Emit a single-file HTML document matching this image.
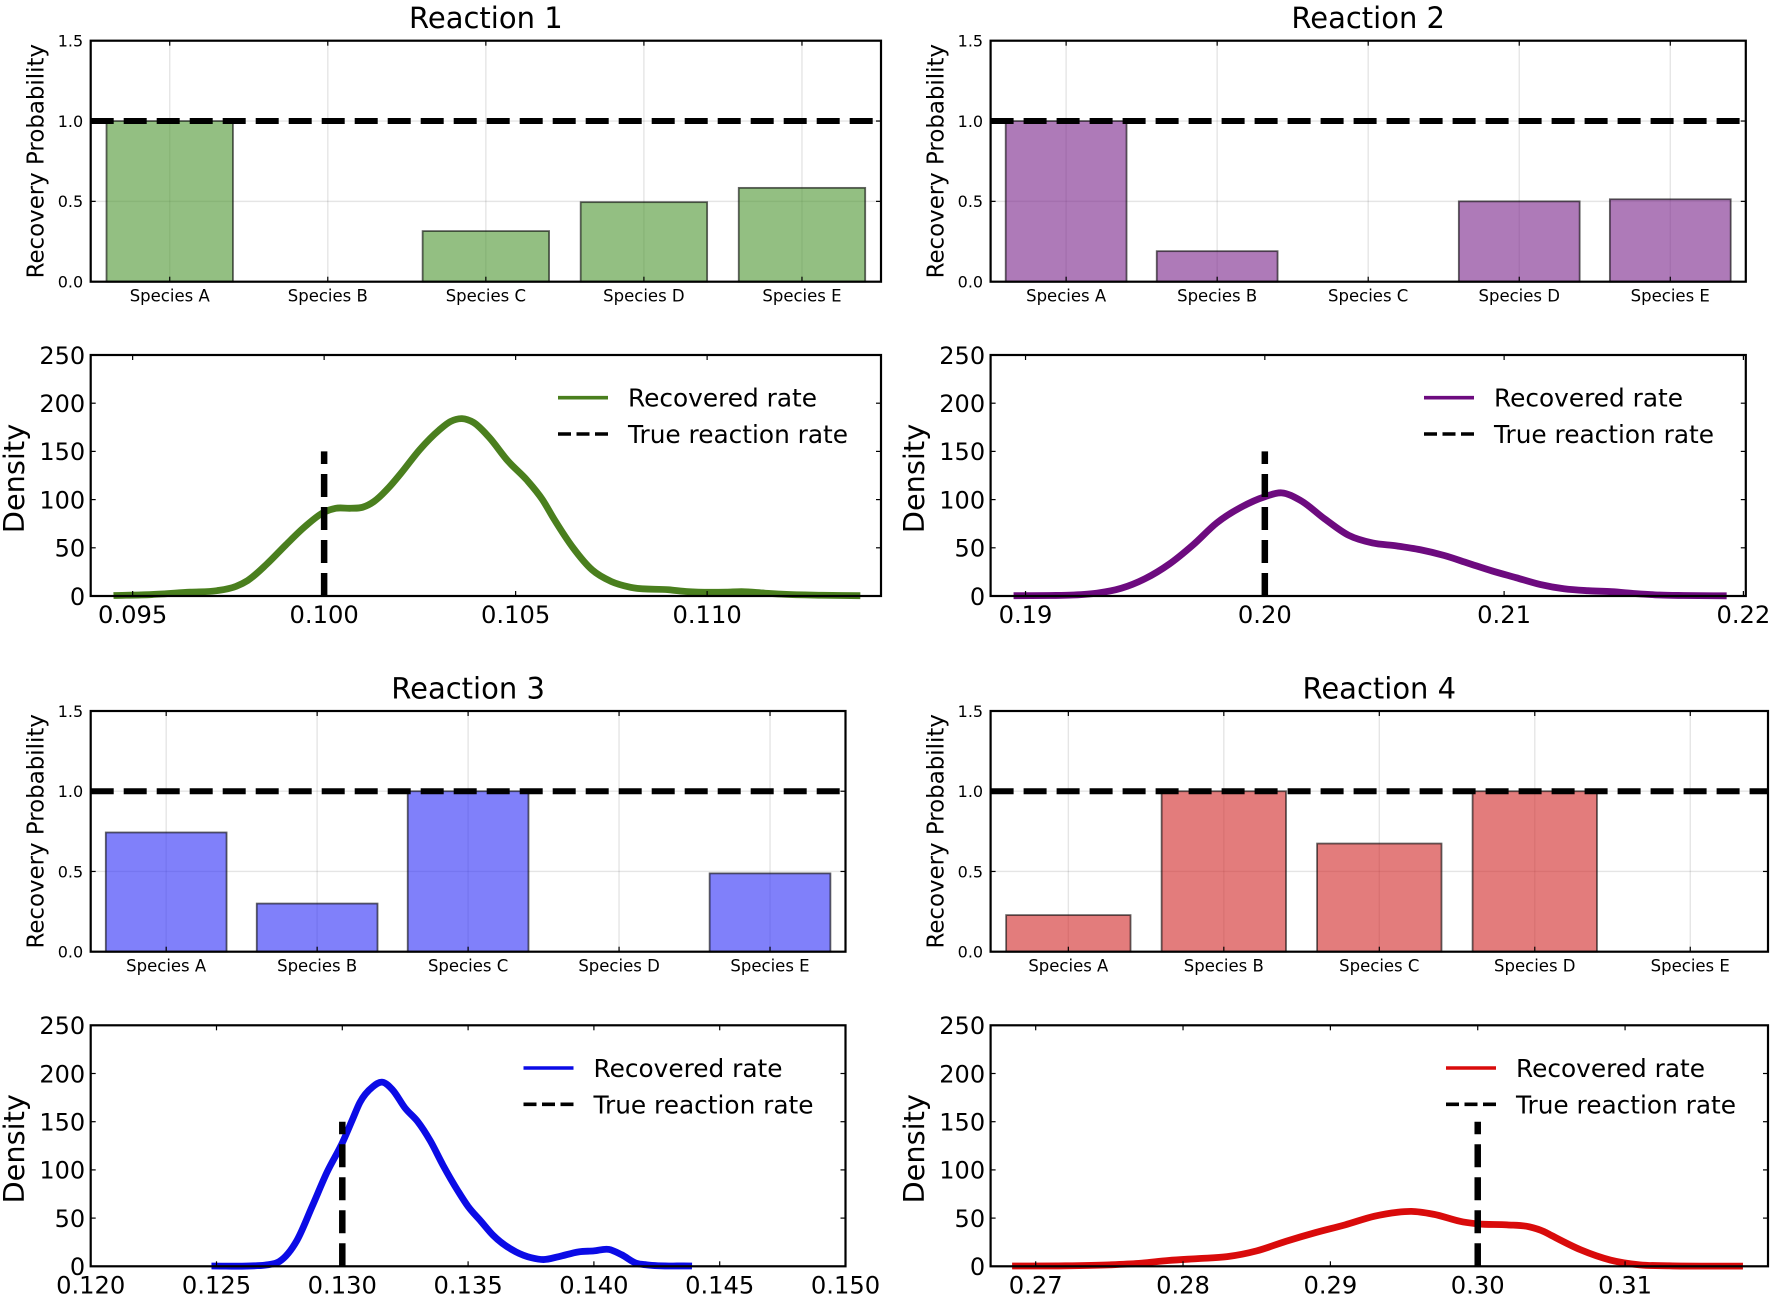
<!DOCTYPE html>
<html lang="en">
<head>
<meta charset="utf-8">
<title>Reaction recovery charts</title>
<style>
html,body{margin:0;padding:0;background:#fff;width:1772px;height:1296px;overflow:hidden}
svg{display:block;filter:blur(0.35px)}
text{font-family:"DejaVu Sans","Liberation Sans",sans-serif;fill:#000}
</style>
</head>
<body>
<svg id="figure" xmlns="http://www.w3.org/2000/svg" width="1772" height="1296" viewBox="0 0 1772 1296"></svg>
<script>
const categories = ['Species A', 'Species B', 'Species C', 'Species D', 'Species E'];
const probabilityTicks = ['0.0', '0.5', '1.0', '1.5'];
const densityTicks = ['0', '50', '100', '150', '200', '250'];

const reaction1Recovery = [1.0, 0, 0.315, 0.495, 0.584];
const reaction2Recovery = [1.0, 0.19, 0, 0.50, 0.513];
const reaction3Recovery = [0.743, 0.30, 1.0, 0, 0.488];
const reaction4Recovery = [0.228, 1.0, 0.674, 1.0, 0];

const reaction1RateTicks = ['0.095', '0.100', '0.105', '0.110'];
const reaction2RateTicks = ['0.19', '0.20', '0.21', '0.22'];
const reaction3RateTicks = ['0.120', '0.125', '0.130', '0.135', '0.140', '0.145', '0.150'];
const reaction4RateTicks = ['0.27', '0.28', '0.29', '0.30', '0.31'];

const reaction1Rates = [0.0945,0.0955,0.0965,0.0972,0.0977,0.098,0.0985,0.099,0.0995,0.1,0.1003,0.1007,0.101,0.1013,0.1017,0.102,0.1025,0.103,0.1033,0.1036,0.1039,0.1043,0.1048,0.1053,0.1057,0.106,0.1065,0.107,0.1075,0.108,0.109,0.1095,0.1105,0.1109,0.1115,0.112,0.113,0.114];
const reaction1Density = [0.5,1.5,4,5.5,10,16,33,53,72,87,91,91,92,98,113,127,152,172,181,184,180,165,140,120,100,80,50,27,15,9,6.5,4.5,4,4.5,3,1.8,0.8,0.3];

const reaction2Rates = [0.1895,0.191,0.192,0.193,0.194,0.195,0.196,0.197,0.198,0.199,0.2,0.2007,0.2015,0.2025,0.2035,0.2045,0.2055,0.2065,0.2075,0.2085,0.2095,0.2105,0.2115,0.2125,0.2135,0.2145,0.2155,0.2165,0.2175,0.2193];
const reaction2Density = [0.3,0.5,1,3,8,18,33,53,76,92,103,107,99,80,63,55,52,48,42,34,26,19,12,7.5,5.5,4.5,2.5,1,0.5,0.2];

const reaction3Rates = [0.1248,0.1265,0.127,0.1275,0.1282,0.1288,0.1294,0.13,0.1304,0.1307,0.1312,0.1316,0.132,0.1325,0.133,0.1335,0.134,0.1346,0.135,0.1355,0.136,0.1369,0.1375,0.138,0.1386,0.1394,0.14,0.1406,0.1411,0.1417,0.1421,0.1439];
const reaction3Density = [0.3,0.5,1.5,5,27,62,98,128,152,170,186,191,183,164,150,130,105,78,62,47,32,15,9,7,10,15,16,17.5,12,3,1.5,0.3];

const reaction4Rates = [0.2684,0.272,0.275,0.277,0.279,0.281,0.283,0.285,0.287,0.289,0.291,0.293,0.2945,0.2955,0.297,0.299,0.3,0.302,0.3035,0.3045,0.305,0.307,0.309,0.311,0.313,0.318];
const reaction4Density = [0.3,0.5,1.5,3,6,8,10,16,26,35,43,52,56,57,54,46,44,43,41,36,32,17,6.5,1.5,0.5,0.2];

const SVG_NS = 'http://www.w3.org/2000/svg';
const figure = document.getElementById('figure');

function el(tag, attrs, parent, text) {
  const node = document.createElementNS(SVG_NS, tag);
  for (const key in attrs) node.setAttribute(key, attrs[key]);
  if (text !== undefined) node.textContent = text;
  parent.appendChild(node);
  return node;
}

function linear(d0, d1, r0, r1) {
  return function (v) { return r0 + (v - d0) * (r1 - r0) / (d1 - d0); };
}

/* Cubic Hermite through the points, with tangents weighted by the x spacing */
function smoothPath(xs, ys) {
  const n = xs.length;
  const slopes = [];
  for (let i = 0; i < n - 1; i++) slopes.push((ys[i + 1] - ys[i]) / (xs[i + 1] - xs[i]));
  const tangents = [slopes[0]];
  for (let i = 1; i < n - 1; i++) {
    const h0 = xs[i] - xs[i - 1], h1 = xs[i + 1] - xs[i];
    tangents.push((slopes[i - 1] * h1 + slopes[i] * h0) / (h0 + h1));
  }
  tangents.push(slopes[n - 2]);
  let d = 'M' + xs[0].toFixed(2) + ' ' + ys[0].toFixed(2);
  for (let i = 0; i < n - 1; i++) {
    const h = (xs[i + 1] - xs[i]) / 3;
    d += 'C' + (xs[i] + h).toFixed(2) + ' ' + (ys[i] + tangents[i] * h).toFixed(2) + ' ' + (xs[i + 1] - h).toFixed(2) + ' ' + (ys[i + 1] - tangents[i + 1] * h).toFixed(2) + ' ' + xs[i + 1].toFixed(2) + ' ' + ys[i + 1].toFixed(2);
  }
  return d;
}

function tickMark(parent, x1, y1, x2, y2) {
  const t = el('line', { x1: x1, y1: y1, x2: x2, y2: y2, stroke: '#000', 'stroke-width': 1.2 }, parent);
  
  
}

function frame(parent, box) {
  const f = el('rect', { x: box.x0, y: box.y0, width: box.x1 - box.x0, height: box.y1 - box.y0, fill: 'none', stroke: '#000', 'stroke-width': 2.2 }, parent);
  
  
}

function drawBars(cfg, box, values) {
  const g = el('g', {}, figure);
  
  
  const x = linear(-0.5, categories.length - 0.5, box.x0, box.x1);
  const y = linear(0, 1.5, box.y1, box.y0);
  const unit = x(1) - x(0);

  const title = el('text', { x: (box.x0 + box.x1) / 2, y: box.y0 - 12.5, 'text-anchor': 'middle', 'font-size': 29 }, g, cfg.title);
  
  

  categories.forEach(function (c, i) {
    const gl = el('line', { x1: x(i), x2: x(i), y1: box.y0, y2: box.y1, stroke: '#000', 'stroke-opacity': 0.1, 'stroke-width': 1.4 }, g);
    
    
  });
  probabilityTicks.forEach(function (t) {
    const v = parseFloat(t);
    const gl = el('line', { x1: box.x0, x2: box.x1, y1: y(v), y2: y(v), stroke: '#000', 'stroke-opacity': 0.1, 'stroke-width': 1.4 }, g);
    
    
  });

  values.forEach(function (v, i) {
    if (v <= 0) return;
    const r = el('rect', { x: x(i) - 0.4 * unit, y: y(v), width: 0.8 * unit, height: y(0) - y(v), fill: cfg.barColor, 'fill-opacity': 0.6, stroke: '#000', 'stroke-opacity': 0.6, 'stroke-width': 1.8 }, g);
    
    
  });

  const ref = el('line', { x1: box.x0, x2: box.x1, y1: y(1), y2: y(1), stroke: '#000', 'stroke-width': 6, 'stroke-dasharray': '23 10' }, g);
  
  

  categories.forEach(function (c, i) {
    tickMark(g, x(i), box.y1, x(i), box.y1 - 5);
    tickMark(g, x(i), box.y0, x(i), box.y0 + 5);
    const lab = el('text', { x: x(i), y: box.y1 + 20, 'text-anchor': 'middle', 'font-size': 16.5 }, g, c);
    
    
  });
  probabilityTicks.forEach(function (t) {
    const v = parseFloat(t);
    tickMark(g, box.x0, y(v), box.x0 + 5, y(v));
    tickMark(g, box.x1, y(v), box.x1 - 5, y(v));
    const lab = el('text', { x: box.x0 - 7.5, y: y(v) + 5.8, 'text-anchor': 'end', 'font-size': 16 }, g, t);
    
    
  });

  const cy = (box.y0 + box.y1) / 2;
  const yl = el('text', { x: 0, y: 0, 'text-anchor': 'middle', 'font-size': 22.9, transform: 'translate(' + (box.x0 - 47) + ' ' + cy + ') rotate(-90)' }, g, 'Recovery Probability');
  
  

  frame(g, box);
}

function drawDensity(cfg, box, rates, density, rateTicks) {
  const g = el('g', {}, figure);
  
  
  const x = linear(cfg.xMin, cfg.xMax, box.x0, box.x1);
  const y = linear(0, 250, box.y1, box.y0);

  const curve = el('path', { d: smoothPath(rates.map(x), density.map(y)), fill: 'none', stroke: cfg.lineColor, 'stroke-width': 6.8, 'stroke-linejoin': 'round' }, g);
  
  

  const vline = el('line', { x1: x(cfg.trueRate), x2: x(cfg.trueRate), y1: y(0), y2: y(150), stroke: '#000', 'stroke-width': 6.5, 'stroke-dasharray': '23 10' }, g);
  
  

  rateTicks.forEach(function (t) {
    const v = parseFloat(t);
    tickMark(g, x(v), box.y1, x(v), box.y1 - 5);
    tickMark(g, x(v), box.y0, x(v), box.y0 + 5);
    const lab = el('text', { x: x(v), y: box.y1 + 27, 'text-anchor': 'middle', 'font-size': 24.2 }, g, t);
    
    
  });
  densityTicks.forEach(function (t) {
    const v = parseFloat(t);
    tickMark(g, box.x0, y(v), box.x0 + 5, y(v));
    tickMark(g, box.x1, y(v), box.x1 - 5, y(v));
    const lab = el('text', { x: box.x0 - 5.5, y: y(v) + 8.8, 'text-anchor': 'end', 'font-size': 24 }, g, t);
    
    
  });

  const cy = (box.y0 + box.y1) / 2;
  const yl = el('text', { x: 0, y: 0, 'text-anchor': 'middle', 'font-size': 28.8, transform: 'translate(' + (box.x0 - 66.5) + ' ' + (cy + 3) + ') rotate(-90)' }, g, 'Density');
  
  

  const legend = el('g', {}, g);
  
  
  const ly1 = box.y0 + 42.7, ly2 = box.y0 + 79;
  const s1 = el('line', { x1: cfg.legendX, x2: cfg.legendX + 50, y1: ly1, y2: ly1, stroke: cfg.lineColor, 'stroke-width': 3.6 }, legend);
  
  
  const t1 = el('text', { x: cfg.legendX + 70, y: ly1 + 9, 'font-size': 24.8 }, legend, 'Recovered rate');
  
  
  const s2 = el('line', { x1: cfg.legendX, x2: cfg.legendX + 50, y1: ly2, y2: ly2, stroke: '#000', 'stroke-width': 3.6, 'stroke-dasharray': '13 5.5' }, legend);
  
  
  const t2 = el('text', { x: cfg.legendX + 70, y: ly2 + 9, 'font-size': 24.8 }, legend, 'True reaction rate');
  
  

  frame(g, box);
}

drawBars({ id: 1, title: 'Reaction 1', barColor: 'rgb(75,149,47)' }, { x0: 90.7, x1: 881, y0: 40.7, y1: 281.7 }, reaction1Recovery);
drawDensity({ id: 1, lineColor: '#4a7f1e', trueRate: 0.1, xMin: 0.093905, xMax: 0.11454, legendX: 558 }, { x0: 90.7, x1: 881, y0: 355, y1: 596 }, reaction1Rates, reaction1Density, reaction1RateTicks);

drawBars({ id: 2, title: 'Reaction 2', barColor: 'rgb(120,33,137)' }, { x0: 990.6, x1: 1745.8, y0: 40.7, y1: 281.7 }, reaction2Recovery);
drawDensity({ id: 2, lineColor: '#6d0b7f', trueRate: 0.2, xMin: 0.18854, xMax: 0.2201, legendX: 1424 }, { x0: 990.6, x1: 1745.8, y0: 355, y1: 596 }, reaction2Rates, reaction2Density, reaction2RateTicks);

drawBars({ id: 3, title: 'Reaction 3', barColor: 'rgb(43,43,247)' }, { x0: 90.7, x1: 845.5, y0: 711, y1: 951.7 }, reaction3Recovery);
drawDensity({ id: 3, lineColor: '#0b0be6', trueRate: 0.13, xMin: 0.12, xMax: 0.15, legendX: 523.5 }, { x0: 90.7, x1: 845.5, y0: 1025.3, y1: 1266.3 }, reaction3Rates, reaction3Density, reaction3RateTicks);

drawBars({ id: 4, title: 'Reaction 4', barColor: 'rgb(208,37,37)' }, { x0: 990.6, x1: 1768, y0: 711, y1: 951.7 }, reaction4Recovery);
drawDensity({ id: 4, lineColor: '#d90b0b', trueRate: 0.3, xMin: 0.26694, xMax: 0.3197, legendX: 1446 }, { x0: 990.6, x1: 1768, y0: 1025.3, y1: 1266.3 }, reaction4Rates, reaction4Density, reaction4RateTicks);
</script>
</body>
</html>
